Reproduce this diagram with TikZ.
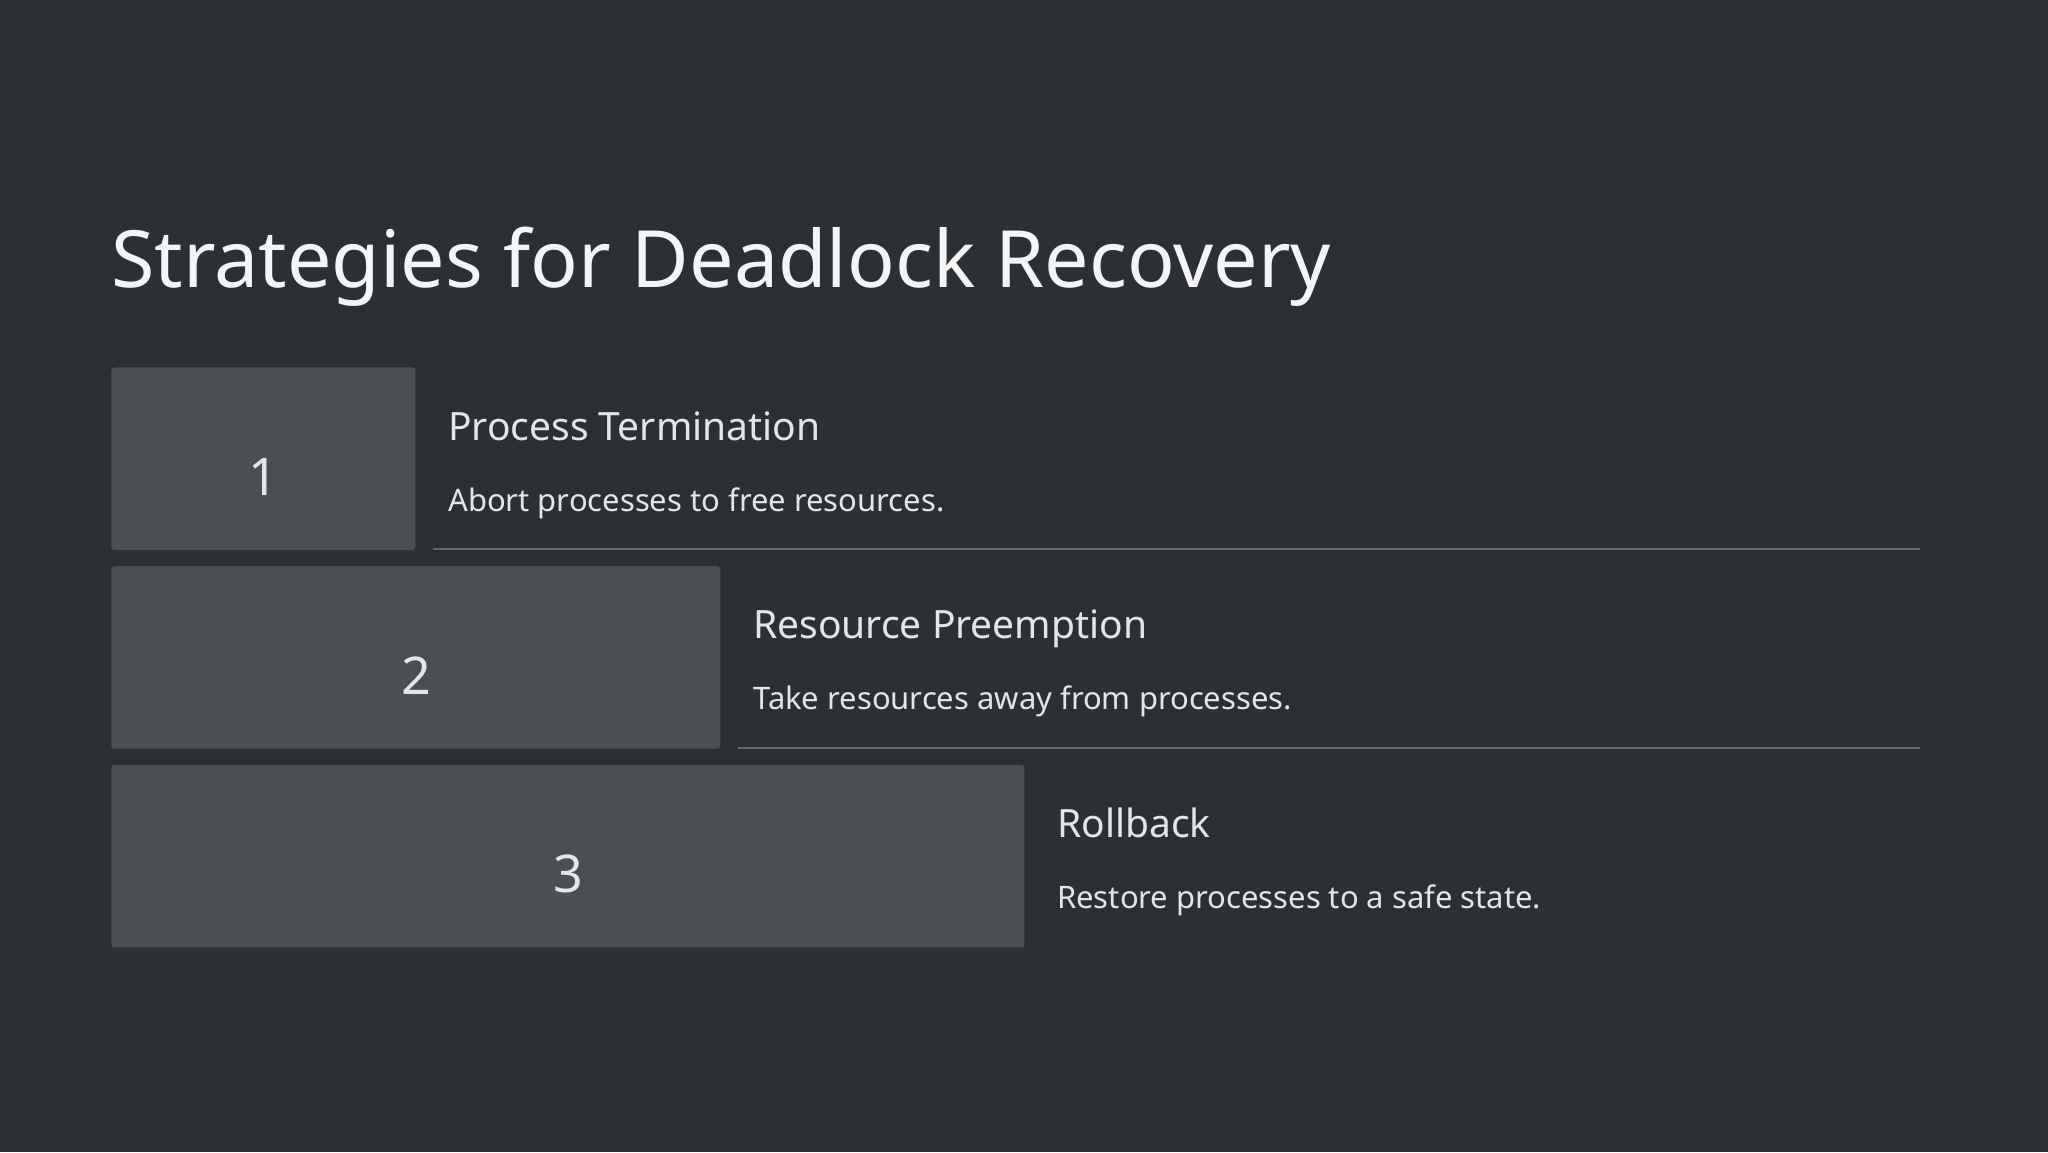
\documentclass[tikz,border=0pt]{standalone}
\usepackage{fontspec}
\setmainfont{Noto Sans}
\usetikzlibrary{positioning}
\definecolor{bgcol}{HTML}{2D3033}
\definecolor{boxcol}{HTML}{4B4F51}
\definecolor{rulecol}{HTML}{62666A}
\definecolor{txtcol}{HTML}{E4E5E6}
\definecolor{titlecol}{HTML}{F4F5F6}
\tikzstyle{numbox} = [rectangle,
rounded corners=1.5pt,
minimum height=91.2pt,
inner sep=0pt,
anchor=north west,
fill=boxcol]
\tikzstyle{numlabel} = [text=txtcol,
yshift=-9pt,
font=\fontsize{26}{30}\selectfont]
\tikzstyle{head} = [anchor=base west,
inner sep=0pt,
text=txtcol,
font=\fontsize{19.5}{24}\selectfont]
\tikzstyle{desc} = [anchor=base west,
inner sep=0pt,
text=txtcol,
font=\fontsize{15.5}{18}\selectfont]
\tikzstyle{sep} = [rulecol, line width=1pt]

\begin{document}
\begin{tikzpicture}[]

\fill [bgcol] (0,0) rectangle (1024pt,-576pt);
\useasboundingbox (0,0) rectangle (1024pt,-576pt);

\node (title) [anchor=base west, inner sep=0pt, text=titlecol,
  font=\fontsize{39.5}{48}\selectfont] at (55.5pt,-143.5pt)
  {Strategies for Deadlock Recovery};

\node (box1) [numbox, minimum width=152pt, label={[numlabel]center:1}]
  at (55.5pt,-183.5pt) {};
\node (box2) [numbox, minimum width=304.5pt, label={[numlabel]center:2},
  below=7.8pt of box1.south west, anchor=north west] {};
\node (box3) [numbox, minimum width=456.5pt, label={[numlabel]center:3},
  below=7.8pt of box2.south west, anchor=north west] {};

\node (head1) [head, right=16pt of box1.north east, anchor=base west, yshift=-36.5pt] {Process Termination};
\node (desc1) [desc, right=16pt of box1.north east, anchor=base west, yshift=-72pt] {Abort processes to free resources.};

\node (head2) [head, right=16pt of box2.north east, anchor=base west, yshift=-36.5pt] {Resource Preemption};
\node (desc2) [desc, right=16pt of box2.north east, anchor=base west, yshift=-72pt] {Take resources away from processes.};

\node (head3) [head, right=16pt of box3.north east, anchor=base west, yshift=-36.5pt] {Rollback};
\node (desc3) [desc, right=16pt of box3.north east, anchor=base west, yshift=-72pt] {Restore processes to a safe state.};

\coordinate (rulend) at (960pt,0);

\draw [sep] ([xshift=8.5pt,yshift=0.6pt]box1.south east) -- ([yshift=0.6pt]box1.south east -| rulend);
\draw [sep] ([xshift=8.5pt,yshift=0.6pt]box2.south east) -- ([yshift=0.6pt]box2.south east -| rulend);

\end{tikzpicture}
\end{document}
